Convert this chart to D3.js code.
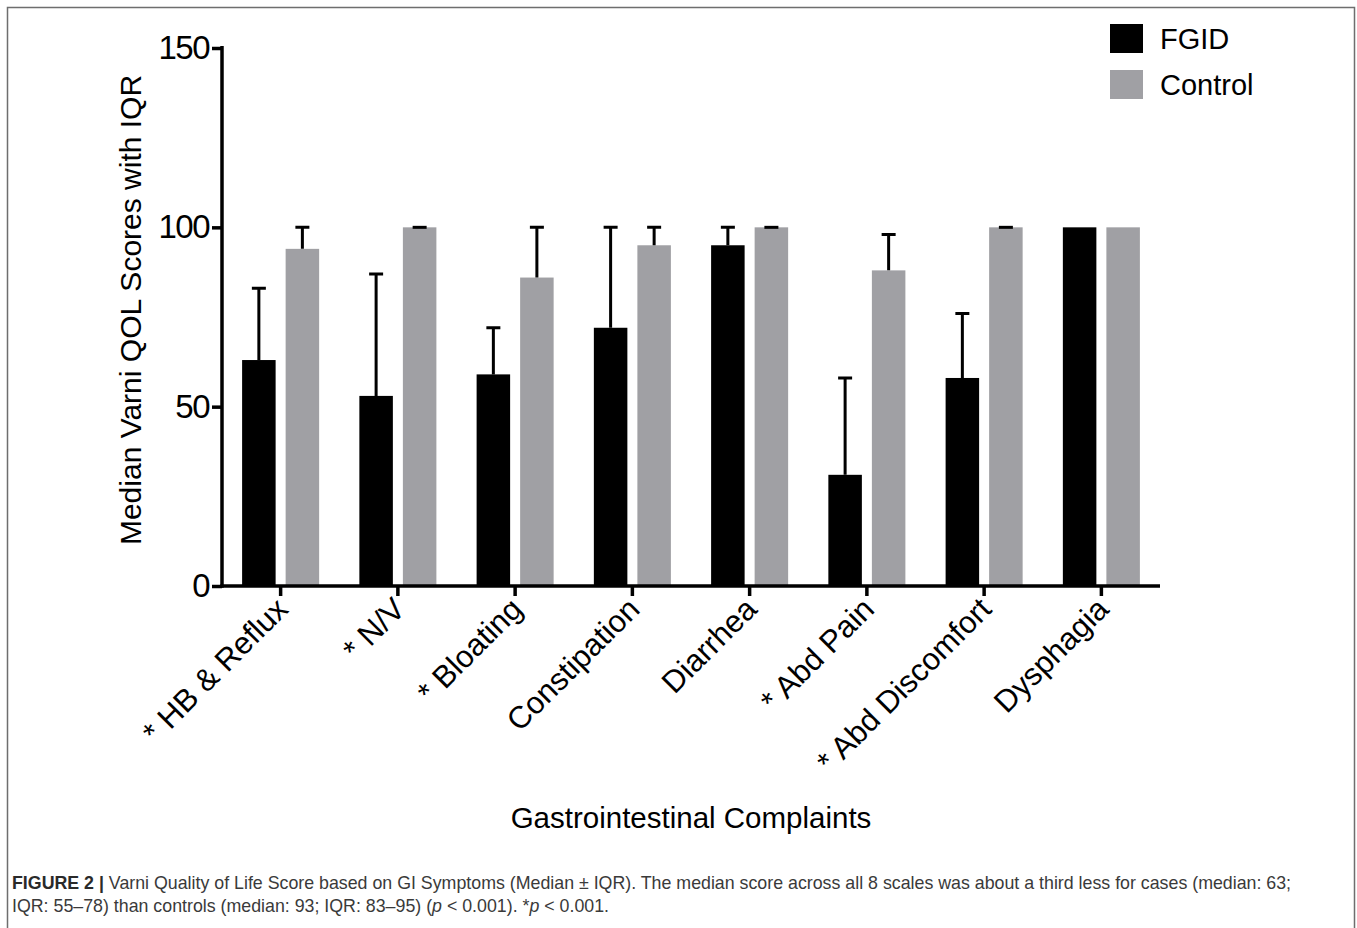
<!DOCTYPE html>
<html>
<head>
<meta charset="utf-8">
<script src="https://cdn.jsdelivr.net/npm/d3@7"></script>
<style>
  body { margin: 0; background: #fff; }
  svg { display: block; }
  text { font-family: "Liberation Sans", Arial, sans-serif; }
</style>
</head>
<body>
<script>
var categories = ["* HB & Reflux", "* N/V", "* Bloating", "Constipation", "Diarrhea", "* Abd Pain", "* Abd Discomfort", "Dysphagia"]
var series = ["FGID", "Control"]
var fgid_median = [63, 53, 59, 72, 95, 31, 58, 100]
var fgid_upper = [83, 87, 72, 100, 100, 58, 76, null]
var control_median = [94, 100, 86, 95, 100, 88, 100, 100]
var control_upper = [100, 100, 100, 100, 100, 98, 100, null]
var y_ticks = [0, 50, 100, 150]

var width = 1357, height = 928
var colors = { "FGID": "#000000", "Control": "#a0a0a4" }

var svg = d3.select("body").append("svg")
  .attr("width", width)
  .attr("height", height)

// outer frame of the figure
svg.append("path")
  .attr("d", "M7.5,928 L7.5,7.5 L1354.5,7.5 L1354.5,928")
  .attr("fill", "none")
  .attr("stroke", "#6e6e6e")
  .attr("stroke-width", 1.5)

var x0 = d3.scaleBand()
  .domain(categories)
  .range([222, 1160])
  .paddingInner(0.343)
  .paddingOuter(0.1715)
var x1 = d3.scaleBand()
  .domain(series)
  .range([0, x0.bandwidth()])
  .paddingInner(0.23)
var y = d3.scaleLinear()
  .domain([0, 150])
  .range([586, 48])

var rows = categories.map(function (c, i) {
  return {
    "cat": c,
    "bars": [
      { "s": "FGID", "v": fgid_median[i], "up": fgid_upper[i] },
      { "s": "Control", "v": control_median[i], "up": control_upper[i] }
    ]
  }
})

var chart = svg.append("g")

var groups = chart.selectAll("g.cat")
  .data(rows)
  .enter().append("g")
    .attr("class", "cat")
    .attr("transform", function (d) { return "translate(" + x0(d.cat) + ",0)" })

groups.selectAll("rect")
  .data(function (d) { return d.bars })
  .enter().append("rect")
    .attr("x", function (d) { return x1(d.s) })
    .attr("y", function (d) { return y(d.v) })
    .attr("width", x1.bandwidth())
    .attr("height", function (d) { return y(0) - y(d.v) })
    .attr("fill", function (d) { return colors[d.s] })

// upper IQR whiskers
var cap = 7
groups.selectAll("g.err")
  .data(function (d) { return d.bars.filter(function (b) { return b.up != null }) })
  .enter().append("path")
    .attr("d", function (d) {
      var cx = x1(d.s) + x1.bandwidth() / 2
      return "M" + cx + "," + y(d.v) + "V" + y(d.up) +
        "M" + (cx - cap) + "," + y(d.up) + "H" + (cx + cap)
    })
    .attr("fill", "none")
    .attr("stroke", "#000")
    .attr("stroke-width", 3)

// axes
var yAxis = chart.append("g")
  .attr("transform", "translate(222,0)")
  .call(d3.axisLeft(y).tickValues(y_ticks).tickSize(10).tickSizeOuter(0).tickPadding(3))
var xAxis = chart.append("g")
  .attr("transform", "translate(0,586)")
  .call(d3.axisBottom(x0).tickSize(10).tickSizeOuter(0).tickFormat(""))

chart.selectAll(".domain, .tick line")
  .attr("stroke", "#000")
  .attr("stroke-width", 3.5)
yAxis.select(".domain").attr("d", "M0,46V587.75")
xAxis.select(".domain").attr("d", "M220.25,0H1160")

yAxis.selectAll(".tick text")
  .attr("font-size", 33)
  .attr("font-family", "Liberation Sans, Arial, sans-serif")
  .attr("fill", "#000")
  .attr("letter-spacing", -1.5)

// rotated category labels
chart.selectAll("text.cat-label")
  .data(categories)
  .enter().append("text")
    .attr("class", "cat-label")
    .attr("transform", function (d) {
      return "translate(" + (x0(d) + x0.bandwidth() / 2 + 9) + ",611) rotate(-45)"
    })
    .attr("text-anchor", "end")
    .attr("font-size", 31)
    .attr("fill", "#000")
    .text(function (d) { return d })

// axis titles
svg.append("text")
  .attr("transform", "translate(141,310) rotate(-90)")
  .attr("text-anchor", "middle")
  .attr("font-size", 30)
  .attr("fill", "#000")
  .text("Median Varni QOL Scores with IQR")

svg.append("text")
  .attr("x", 691)
  .attr("y", 828)
  .attr("text-anchor", "middle")
  .attr("font-size", 29.5)
  .attr("fill", "#000")
  .text("Gastrointestinal Complaints")

// legend
var legend = svg.append("g")
  .selectAll("g")
  .data(series)
  .enter().append("g")
    .attr("transform", function (d, i) { return "translate(1110," + (24 + i * 46) + ")" })
legend.append("rect")
  .attr("width", 33)
  .attr("height", 29)
  .attr("fill", function (d) { return colors[d] })
legend.append("text")
  .attr("x", 50)
  .attr("y", 25)
  .attr("font-size", 29)
  .attr("fill", "#000")
  .text(function (d) { return d })

// caption
var caption = svg.append("g")
  .attr("font-size", 17.8)
  .attr("fill", "#3a3a3a")
var line1 = caption.append("text").attr("x", 12).attr("y", 889)
line1.append("tspan").attr("font-weight", "bold").attr("fill", "#2a2a2a").text("FIGURE 2 | ")
line1.append("tspan").text("Varni Quality of Life Score based on GI Symptoms (Median \u00b1 IQR). The median score across all 8 scales was about a third less for cases (median: 63;")
var line2 = caption.append("text").attr("x", 12).attr("y", 912)
line2.append("tspan").text("IQR: 55\u201378) than controls (median: 93; IQR: 83\u201395) (")
line2.append("tspan").attr("font-style", "italic").text("p")
line2.append("tspan").text(" < 0.001). *")
line2.append("tspan").attr("font-style", "italic").text("p")
line2.append("tspan").text(" < 0.001.")
</script>
</body>
</html>
